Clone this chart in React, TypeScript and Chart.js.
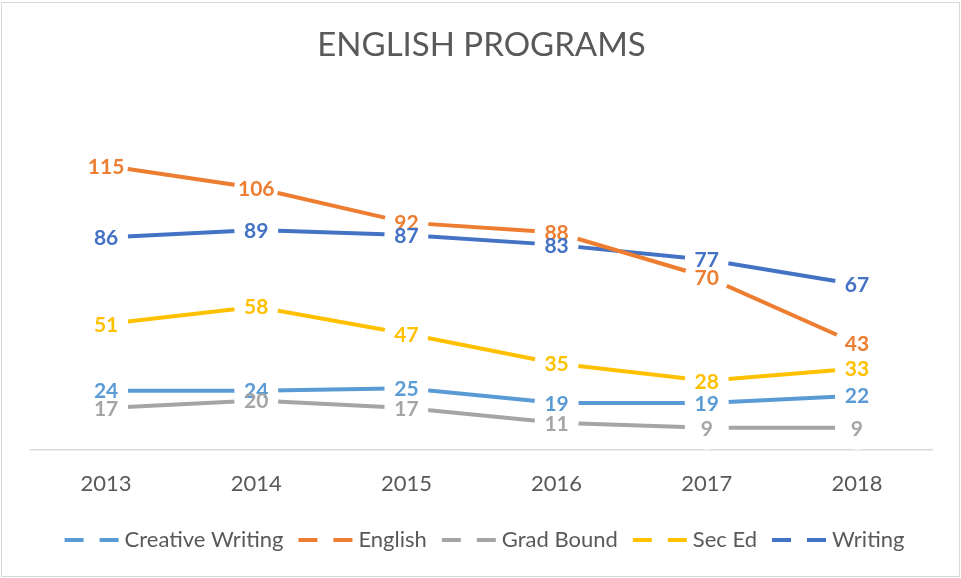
import React, { useEffect, useRef } from "react";
import { Chart, registerables } from "chart.js";

Chart.register(...registerables);

const categories = ["2013", "2014", "2015", "2016", "2017", "2018"];
const creativeWriting = [24, 24, 25, 19, 19, 22];
const english = [115, 106, 92, 88, 70, 43];
const gradBound = [17, 20, 17, 11, 9, 9];
const secEd = [51, 58, 47, 35, 28, 33];
const writing = [86, 89, 87, 83, 77, 67];

const seriesNames = ["Creative Writing", "English", "Grad Bound", "Sec Ed", "Writing"];
const seriesColors = ["#5B9BD5", "#ED7D31", "#A5A5A5", "#FFC000", "#4472C4"];
const seriesValues = [creativeWriting, english, gradBound, secEd, writing];

const FONT = "Lato, 'Open Sans', sans-serif";
const TEXT_COLOR = "#595959";

const frameAndLabels = {
  id: "frameAndLabels",
  beforeDraw(chart: any) {
    const ctx = chart.ctx;
    ctx.save();
    ctx.fillStyle = "#ffffff";
    ctx.fillRect(0, 0, chart.width, chart.height);
    ctx.strokeStyle = "#D9D9D9";
    ctx.lineWidth = 1;
    ctx.strokeRect(1.5, 2.5, chart.width - 3, chart.height - 4);
    ctx.restore();
  },
  afterDatasetsDraw(chart: any) {
    const ctx = chart.ctx;
    ctx.save();
    ctx.font = `bold 21px ${FONT}`;
    ctx.textAlign = "center";
    ctx.textBaseline = "middle";
    chart.data.datasets.forEach((ds: any, i: number) => {
      const meta = chart.getDatasetMeta(i);
      ctx.fillStyle = ds.borderColor;
      meta.data.forEach((pt: any, j: number) => {
        ctx.fillText(String(ds.data[j]), pt.x, pt.y + 1);
      });
    });
    ctx.restore();
  },
  afterDraw(chart: any) {
    const ctx = chart.ctx;
    ctx.save();
    ctx.font = `22px ${FONT}`;
    ctx.textBaseline = "middle";
    ctx.textAlign = "left";
    const markerW = 54;
    const markerGap = 6;
    const itemGap = 15;
    const widths = seriesNames.map((n) => ctx.measureText(n).width);
    const total =
      widths.reduce((a, b) => a + b, 0) +
      seriesNames.length * (markerW + markerGap) +
      (seriesNames.length - 1) * itemGap;
    let x = (chart.width - total) / 2 + 4;
    const y = 540;
    seriesNames.forEach((n, i) => {
      ctx.strokeStyle = seriesColors[i];
      ctx.lineWidth = 4;
      ctx.beginPath();
      ctx.moveTo(x, y);
      ctx.lineTo(x + 19, y);
      ctx.moveTo(x + markerW - 19, y);
      ctx.lineTo(x + markerW, y);
      ctx.stroke();
      x += markerW + markerGap;
      ctx.fillStyle = TEXT_COLOR;
      ctx.fillText(n, x, y);
      x += widths[i] + itemGap;
    });
    ctx.restore();
  },
};

export default function App() {
  const canvasRef = useRef<HTMLCanvasElement | null>(null);

  useEffect(() => {
    if (!canvasRef.current) return;
    const chart = new Chart(canvasRef.current, {
      type: "line",
      data: {
        labels: categories,
        datasets: seriesNames.map((name, i) => ({
          label: name,
          data: seriesValues[i],
          borderColor: seriesColors[i],
          backgroundColor: seriesColors[i],
          borderWidth: 4,
          pointRadius: 22,
          pointHoverRadius: 22,
          pointBackgroundColor: "#ffffff",
          pointBorderColor: "#ffffff",
          pointBorderWidth: 0,
          tension: 0,
          fill: false,
        })),
      },
      options: {
        animation: false,
        responsive: false,
        maintainAspectRatio: false,
        layout: { padding: { left: 31, right: 29, top: 0, bottom: 0 } },
        plugins: {
          legend: { display: false },
          tooltip: { enabled: false },
          title: {
            display: true,
            text: "ENGLISH PROGRAMS",
            color: TEXT_COLOR,
            font: { family: FONT, size: 33, weight: "normal" as any },
            padding: { top: 26, bottom: 38.4 },
          },
        },
        scales: {
          x: {
            offset: true,
            grid: { display: false, drawTicks: false },
            border: { display: true, color: "#D9D9D9", width: 1.5 },
            ticks: {
              color: TEXT_COLOR,
              font: { family: FONT, size: 22 },
              padding: 21,
            },
            afterFit: (scale: any) => {
              scale.height = 128;
            },
          },
          y: {
            display: false,
            min: 0,
            max: 140,
          },
        },
      },
      plugins: [frameAndLabels],
    });
    return () => chart.destroy();
  }, []);

  return (
    <div style={{ position: "absolute", left: 0, top: 0, width: 961, height: 578 }}>
      <canvas ref={canvasRef} width={961} height={578} style={{ display: "block" }} />
    </div>
  );
}
